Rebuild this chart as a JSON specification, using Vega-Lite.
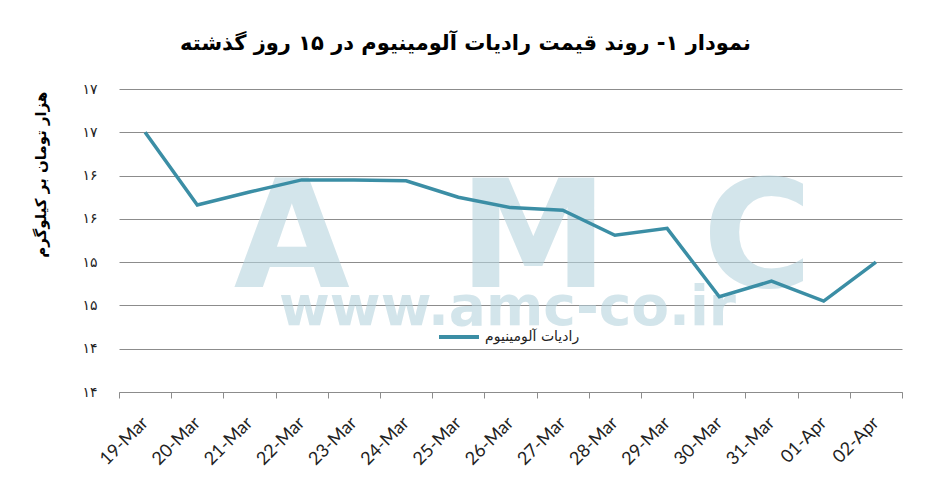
{
  "$schema": "https://vega.github.io/schema/vega-lite/v6.json",
  "width": 783,
  "height": 303,
  "autosize": {"type": "none"},
  "padding": {"left": 119, "top": 89, "right": 45, "bottom": 90},
  "background": "white",
  "title": {
    "text": "نمودار ۱- روند قیمت رادیات آلومینیوم در ۱۵ روز گذشته",
    "font": "DejaVu Sans",
    "fontSize": 21,
    "fontWeight": "bold",
    "color": "#000000",
    "anchor": "middle",
    "dx": -45,
    "offset": 28
  },
  "config": {
    "view": {"stroke": null},
    "axis": {"labelColor": "#222222"}
  },
  "data": {
    "values": [
      {"date": "19-Mar", "price": 17.0},
      {"date": "20-Mar", "price": 16.16},
      {"date": "21-Mar", "price": 16.31},
      {"date": "22-Mar", "price": 16.45},
      {"date": "23-Mar", "price": 16.45},
      {"date": "24-Mar", "price": 16.44},
      {"date": "25-Mar", "price": 16.25},
      {"date": "26-Mar", "price": 16.13},
      {"date": "27-Mar", "price": 16.1},
      {"date": "28-Mar", "price": 15.81},
      {"date": "29-Mar", "price": 15.89},
      {"date": "30-Mar", "price": 15.1},
      {"date": "31-Mar", "price": 15.28},
      {"date": "01-Apr", "price": 15.05},
      {"date": "02-Apr", "price": 15.5}
    ]
  },
  "layer": [
    {
      "data": {"values": [{"w": "A"}]},
      "mark": {"type": "text", "font": "DejaVu Sans", "fontWeight": "bold", "fontSize": 150, "color": "#b7d4de", "opacity": 0.6, "baseline": "alphabetic", "align": "center", "dx": -10},
      "encoding": {
        "x": {"datum": "22-Mar", "type": "ordinal"},
        "y": {"datum": 15.21, "type": "quantitative"},
        "text": {"field": "w"}
      }
    },
    {
      "data": {"values": [{"w": "M"}]},
      "mark": {"type": "text", "font": "DejaVu Sans", "fontWeight": "bold", "fontSize": 150, "color": "#b7d4de", "opacity": 0.6, "baseline": "alphabetic", "align": "center", "dx": 23},
      "encoding": {
        "x": {"datum": "26-Mar", "type": "ordinal"},
        "y": {"datum": 15.21, "type": "quantitative"},
        "text": {"field": "w"}
      }
    },
    {
      "data": {"values": [{"w": "C"}]},
      "mark": {"type": "text", "font": "DejaVu Sans", "fontWeight": "bold", "fontSize": 150, "color": "#b7d4de", "opacity": 0.6, "baseline": "alphabetic", "align": "center", "dx": -14},
      "encoding": {
        "x": {"datum": "31-Mar", "type": "ordinal"},
        "y": {"datum": 15.21, "type": "quantitative"},
        "text": {"field": "w"}
      }
    },
    {
      "data": {"values": [{"w": "www.amc-co.ir"}]},
      "mark": {"type": "text", "font": "DejaVu Sans", "fontWeight": "bold", "fontSize": 55, "color": "#b7d4de", "opacity": 0.6, "baseline": "alphabetic", "align": "center", "dx": -3},
      "encoding": {
        "x": {"datum": "26-Mar", "type": "ordinal"},
        "y": {"datum": 14.77, "type": "quantitative"},
        "text": {"field": "w"}
      }
    },
    {
      "mark": {"type": "line", "strokeWidth": 3.5, "strokeJoin": "miter"},
      "encoding": {
        "x": {
          "field": "date",
          "type": "ordinal",
          "sort": null,
          "scale": {
            "domain": ["19-Mar", "20-Mar", "21-Mar", "22-Mar", "23-Mar", "24-Mar", "25-Mar", "26-Mar", "27-Mar", "28-Mar", "29-Mar", "30-Mar", "31-Mar", "01-Apr", "02-Apr"],
            "paddingInner": 0,
            "paddingOuter": 0
          },
          "axis": {
            "title": null,
            "tickBand": "extent",
            "labelAngle": -45,
            "labelFont": "Lato",
            "labelFontSize": 18,
            "labelPadding": 22,
            "domainColor": "#8c8c8c",
            "tickColor": "#8c8c8c",
            "tickSize": 6,
            "grid": false
          }
        },
        "y": {
          "field": "price",
          "type": "quantitative",
          "scale": {"domain": [14, 17.5], "nice": false, "zero": false},
          "axis": {
            "values": [14, 14.5, 15, 15.5, 16, 16.5, 17, 17.5],
            "labelExpr": "datum.value >= 17 ? '۱۷' : datum.value >= 16 ? '۱۶' : datum.value >= 15 ? '۱۵' : '۱۴'",
            "labelFont": "DejaVu Sans",
            "labelFontSize": 14,
            "labelPadding": 22,
            "domain": false,
            "ticks": false,
            "grid": true,
            "gridColor": "#8c8c8c",
            "gridWidth": 1,
            "title": "هزار تومان بر کیلوگرم",
            "titleFont": "DejaVu Sans",
            "titleFontSize": 15,
            "titleFontWeight": "bold",
            "titleColor": "#000000",
            "titleAngle": -90,
            "titleAlign": "right",
            "titleBaseline": "middle",
            "titleX": -79,
            "titleY": 2
          }
        },
        "color": {
          "datum": "رادیات آلومینیوم",
          "scale": {"range": ["#3b8ea5"]},
          "legend": {
            "title": null,
            "orient": "none",
            "legendX": 318,
            "legendY": 226,
            "symbolType": "stroke",
            "symbolStrokeWidth": 4,
            "symbolSize": 1600,
            "labelFont": "DejaVu Sans",
            "labelFontSize": 14,
            "labelColor": "#222222"
          }
        }
      }
    }
  ]
}
